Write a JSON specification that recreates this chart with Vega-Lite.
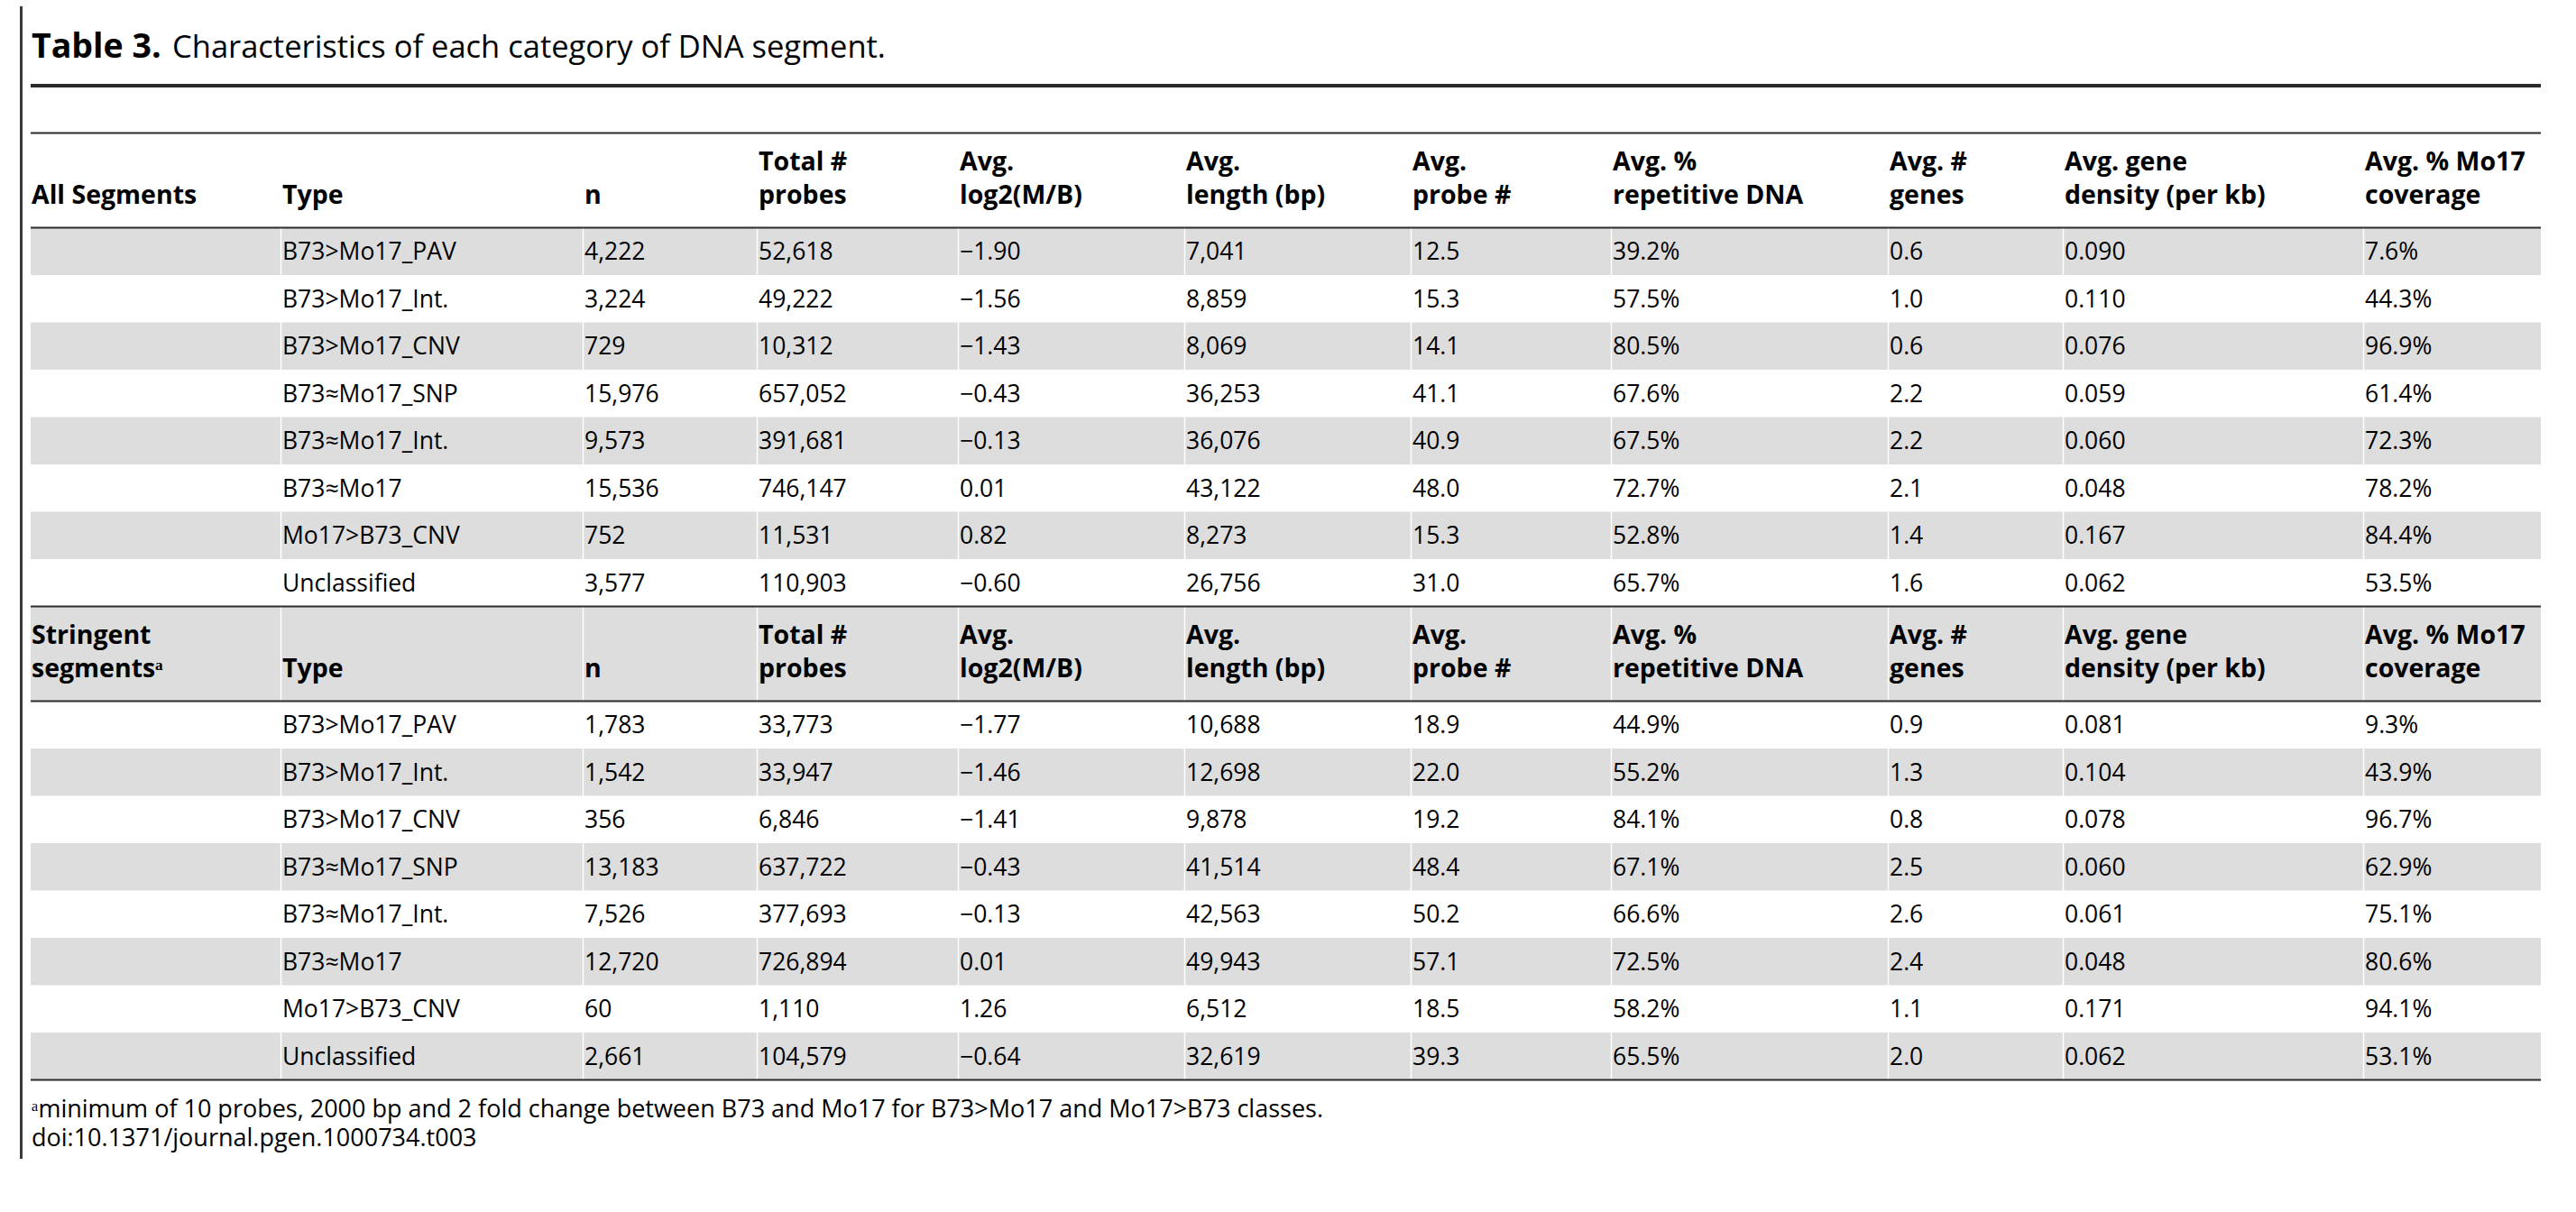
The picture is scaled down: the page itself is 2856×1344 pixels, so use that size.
{
  "$schema": "https://vega.github.io/schema/vega-lite/v6.json",
  "background": "white",
  "padding": {"left": 22, "top": 7, "right": 0, "bottom": 0},
  "config": {"view": {"stroke": null}},
  "datasets": {
    "rows": [
      {"line": 1, "row": 0, "hl": 1, "set": "All Segments", "seg": "", "type": "", "n": "", "probes": "Total #", "log2": "Avg.", "len": "Avg.", "pnum": "Avg.", "rep": "Avg. %", "genes": "Avg. #", "dens": "Avg. gene", "cov": "Avg. % Mo17"},
      {"line": 2, "row": 0, "hl": 2, "set": "All Segments", "seg": "All Segments", "type": "Type", "n": "n", "probes": "probes", "log2": "log2(M/B)", "len": "length (bp)", "pnum": "probe #", "rep": "repetitive DNA", "genes": "genes", "dens": "density (per kb)", "cov": "coverage"},
      {"line": 3, "row": 1, "hl": 0, "set": "All Segments", "type": "B73>Mo17_PAV", "n": "4,222", "probes": "52,618", "log2": "−1.90", "len": "7,041", "pnum": "12.5", "rep": "39.2%", "genes": "0.6", "dens": "0.090", "cov": "7.6%"},
      {"line": 4, "row": 2, "hl": 0, "set": "All Segments", "type": "B73>Mo17_Int.", "n": "3,224", "probes": "49,222", "log2": "−1.56", "len": "8,859", "pnum": "15.3", "rep": "57.5%", "genes": "1.0", "dens": "0.110", "cov": "44.3%"},
      {"line": 5, "row": 3, "hl": 0, "set": "All Segments", "type": "B73>Mo17_CNV", "n": "729", "probes": "10,312", "log2": "−1.43", "len": "8,069", "pnum": "14.1", "rep": "80.5%", "genes": "0.6", "dens": "0.076", "cov": "96.9%"},
      {"line": 6, "row": 4, "hl": 0, "set": "All Segments", "type": "B73≈Mo17_SNP", "n": "15,976", "probes": "657,052", "log2": "−0.43", "len": "36,253", "pnum": "41.1", "rep": "67.6%", "genes": "2.2", "dens": "0.059", "cov": "61.4%"},
      {"line": 7, "row": 5, "hl": 0, "set": "All Segments", "type": "B73≈Mo17_Int.", "n": "9,573", "probes": "391,681", "log2": "−0.13", "len": "36,076", "pnum": "40.9", "rep": "67.5%", "genes": "2.2", "dens": "0.060", "cov": "72.3%"},
      {"line": 8, "row": 6, "hl": 0, "set": "All Segments", "type": "B73≈Mo17", "n": "15,536", "probes": "746,147", "log2": "0.01", "len": "43,122", "pnum": "48.0", "rep": "72.7%", "genes": "2.1", "dens": "0.048", "cov": "78.2%"},
      {"line": 9, "row": 7, "hl": 0, "set": "All Segments", "type": "Mo17>B73_CNV", "n": "752", "probes": "11,531", "log2": "0.82", "len": "8,273", "pnum": "15.3", "rep": "52.8%", "genes": "1.4", "dens": "0.167", "cov": "84.4%"},
      {"line": 10, "row": 8, "hl": 0, "set": "All Segments", "type": "Unclassified", "n": "3,577", "probes": "110,903", "log2": "−0.60", "len": "26,756", "pnum": "31.0", "rep": "65.7%", "genes": "1.6", "dens": "0.062", "cov": "53.5%"},
      {"line": 11, "row": 9, "hl": 1, "set": "Stringent segments", "seg": "Stringent", "type": "", "n": "", "probes": "Total #", "log2": "Avg.", "len": "Avg.", "pnum": "Avg.", "rep": "Avg. %", "genes": "Avg. #", "dens": "Avg. gene", "cov": "Avg. % Mo17"},
      {"line": 12, "row": 9, "hl": 2, "set": "Stringent segments", "seg": "segmentsᵃ", "type": "Type", "n": "n", "probes": "probes", "log2": "log2(M/B)", "len": "length (bp)", "pnum": "probe #", "rep": "repetitive DNA", "genes": "genes", "dens": "density (per kb)", "cov": "coverage"},
      {"line": 13, "row": 10, "hl": 0, "set": "Stringent segments", "type": "B73>Mo17_PAV", "n": "1,783", "probes": "33,773", "log2": "−1.77", "len": "10,688", "pnum": "18.9", "rep": "44.9%", "genes": "0.9", "dens": "0.081", "cov": "9.3%"},
      {"line": 14, "row": 11, "hl": 0, "set": "Stringent segments", "type": "B73>Mo17_Int.", "n": "1,542", "probes": "33,947", "log2": "−1.46", "len": "12,698", "pnum": "22.0", "rep": "55.2%", "genes": "1.3", "dens": "0.104", "cov": "43.9%"},
      {"line": 15, "row": 12, "hl": 0, "set": "Stringent segments", "type": "B73>Mo17_CNV", "n": "356", "probes": "6,846", "log2": "−1.41", "len": "9,878", "pnum": "19.2", "rep": "84.1%", "genes": "0.8", "dens": "0.078", "cov": "96.7%"},
      {"line": 16, "row": 13, "hl": 0, "set": "Stringent segments", "type": "B73≈Mo17_SNP", "n": "13,183", "probes": "637,722", "log2": "−0.43", "len": "41,514", "pnum": "48.4", "rep": "67.1%", "genes": "2.5", "dens": "0.060", "cov": "62.9%"},
      {"line": 17, "row": 14, "hl": 0, "set": "Stringent segments", "type": "B73≈Mo17_Int.", "n": "7,526", "probes": "377,693", "log2": "−0.13", "len": "42,563", "pnum": "50.2", "rep": "66.6%", "genes": "2.6", "dens": "0.061", "cov": "75.1%"},
      {"line": 18, "row": 15, "hl": 0, "set": "Stringent segments", "type": "B73≈Mo17", "n": "12,720", "probes": "726,894", "log2": "0.01", "len": "49,943", "pnum": "57.1", "rep": "72.5%", "genes": "2.4", "dens": "0.048", "cov": "80.6%"},
      {"line": 19, "row": 16, "hl": 0, "set": "Stringent segments", "type": "Mo17>B73_CNV", "n": "60", "probes": "1,110", "log2": "1.26", "len": "6,512", "pnum": "18.5", "rep": "58.2%", "genes": "1.1", "dens": "0.171", "cov": "94.1%"},
      {"line": 20, "row": 17, "hl": 0, "set": "Stringent segments", "type": "Unclassified", "n": "2,661", "probes": "104,579", "log2": "−0.64", "len": "32,619", "pnum": "39.3", "rep": "65.5%", "genes": "2.0", "dens": "0.062", "cov": "53.1%"}
    ],
    "cols": [
      {"col": "seg", "i": 0}, {"col": "type", "i": 1}, {"col": "n", "i": 2}, {"col": "probes", "i": 3},
      {"col": "log2", "i": 4}, {"col": "len", "i": 5}, {"col": "pnum", "i": 6}, {"col": "rep", "i": 7},
      {"col": "genes", "i": 8}, {"col": "dens", "i": 9}, {"col": "cov", "i": 10}
    ],
    "caption": [
      {"label": "Table 3.", "caption": "Characteristics of each category of DNA segment."}
    ],
    "notes": [
      {"k": 1, "text": "ᵃminimum of 10 probes, 2000 bp and 2 fold change between B73 and Mo17 for B73>Mo17 and Mo17>B73 classes."},
      {"k": 2, "text": "doi:10.1371/journal.pgen.1000734.t003"}
    ]
  },
  "hconcat": [
    {
      "width": 3,
      "height": 1278,
      "data": {"values": [{}]},
      "view": {"fill": "#3a3a3a", "stroke": null},
      "mark": {"type": "rect", "color": "#3a3a3a"},
      "encoding": {}
    },
    {
      "vconcat": [
        {
          "width": 2783,
          "height": 87.5,
          "data": {"name": "caption"},
          "layer": [
            {
              "mark": {"type": "text", "font": "Open Sans", "fontWeight": "bold", "fontSize": 37.5, "align": "left", "baseline": "alphabetic", "dy": 13.25, "color": "#000000"},
              "encoding": {"x": {"value": 1}, "text": {"field": "label", "type": "nominal"}}
            },
            {
              "mark": {"type": "text", "font": "Open Sans", "fontWeight": "normal", "fontSize": 34.5, "align": "left", "baseline": "alphabetic", "dy": 13.25, "color": "#000000"},
              "encoding": {"x": {"value": 157}, "text": {"field": "caption", "type": "nominal"}}
            }
          ]
        },
        {
          "width": 2783,
          "height": 1102.5,
          "data": {"name": "rows"},
          "layer": [
            {
              "transform": [{"filter": "datum.row % 2 == 1"}],
              "mark": {"type": "rect", "color": "#dddddd"},
              "encoding": {
                "y": {"field": "line", "type": "ordinal", "axis": null, "scale": {"type": "band", "domain": [0,1,2,3,4,5,6,7,8,9,10,11,12,13,14,15,16,17,18,19,20], "paddingInner": 0, "paddingOuter": 0}}
              }
            },
            {
              "data": {"name": "cols"},
              "transform": [{"filter": "datum.i > 0"}],
              "mark": {"type": "rule", "color": "#ffffff", "strokeWidth": 1.5, "xOffset": -1.5},
              "encoding": {
                "x": {"field": "i", "type": "quantitative", "axis": null, "scale": {"domain": [0,1,2,3,4,5,6,7,8,9,10], "range": [1,279,614,807,1030,1281,1532,1754,2061,2255,2588], "zero": false, "nice": false}}
              }
            },
            {
              "transform": [{"filter": "datum.hl == 1"}],
              "mark": {"type": "rule", "color": "#2b2b2b", "strokeWidth": 2.2},
              "encoding": {
                "y": {"field": "line", "type": "ordinal", "bandPosition": 0, "axis": null, "scale": {"type": "band", "domain": [0,1,2,3,4,5,6,7,8,9,10,11,12,13,14,15,16,17,18,19,20], "paddingInner": 0, "paddingOuter": 0}}
              }
            },
            {
              "transform": [{"filter": "datum.hl == 2"}],
              "mark": {"type": "rule", "color": "#2b2b2b", "strokeWidth": 2.2},
              "encoding": {
                "y": {"field": "line", "type": "ordinal", "bandPosition": 1, "axis": null, "scale": {"type": "band", "domain": [0,1,2,3,4,5,6,7,8,9,10,11,12,13,14,15,16,17,18,19,20], "paddingInner": 0, "paddingOuter": 0}}
              }
            },
            {
              "transform": [{"aggregate": [{"op": "max", "field": "line", "as": "line"}]}],
              "mark": {"type": "rule", "color": "#2b2b2b", "strokeWidth": 2.2},
              "encoding": {
                "y": {"field": "line", "type": "ordinal", "bandPosition": 1, "axis": null, "scale": {"type": "band", "domain": [0,1,2,3,4,5,6,7,8,9,10,11,12,13,14,15,16,17,18,19,20], "paddingInner": 0, "paddingOuter": 0}}
              }
            },
            {
              "data": {"values": [{}]},
              "mark": {"type": "rule", "color": "#2b2b2b", "strokeWidth": 4},
              "encoding": {
                "y": {"datum": 0, "type": "ordinal", "bandPosition": 0, "axis": null, "scale": {"type": "band", "domain": [0,1,2,3,4,5,6,7,8,9,10,11,12,13,14,15,16,17,18,19,20], "paddingInner": 0, "paddingOuter": 0}}
              }
            },
            {
              "transform": [
                {"fold": ["seg", "type", "n", "probes", "log2", "len", "pnum", "rep", "genes", "dens", "cov"], "as": ["col", "text"]},
                {"filter": "isValid(datum.text)"},
                {"lookup": "col", "from": {"data": {"name": "cols"}, "key": "col", "fields": ["i"]}}
              ],
              "layer": [
                {
                  "transform": [{"filter": "datum.hl == 0"}],
                  "mark": {"type": "text", "font": "Open Sans", "fontSize": 26.5, "align": "left", "baseline": "alphabetic", "dy": 9.3, "color": "#000000"},
                  "encoding": {
                    "x": {"field": "i", "type": "quantitative", "axis": null, "scale": {"domain": [0,1,2,3,4,5,6,7,8,9,10], "range": [1,279,614,807,1030,1281,1532,1754,2061,2255,2588], "zero": false, "nice": false}},
                    "y": {"field": "line", "type": "ordinal", "axis": null, "scale": {"type": "band", "domain": [0,1,2,3,4,5,6,7,8,9,10,11,12,13,14,15,16,17,18,19,20], "paddingInner": 0, "paddingOuter": 0}},
                    "text": {"field": "text", "type": "nominal"}
                  }
                },
                {
                  "transform": [{"filter": "datum.hl == 1"}],
                  "mark": {"type": "text", "font": "Open Sans", "fontWeight": "bold", "fontSize": 28.5, "align": "left", "baseline": "alphabetic", "dy": 15, "color": "#000000"},
                  "encoding": {
                    "x": {"field": "i", "type": "quantitative", "axis": null, "scale": {"domain": [0,1,2,3,4,5,6,7,8,9,10], "range": [1,279,614,807,1030,1281,1532,1754,2061,2255,2588], "zero": false, "nice": false}},
                    "y": {"field": "line", "type": "ordinal", "axis": null, "scale": {"type": "band", "domain": [0,1,2,3,4,5,6,7,8,9,10,11,12,13,14,15,16,17,18,19,20], "paddingInner": 0, "paddingOuter": 0}},
                    "text": {"field": "text", "type": "nominal"}
                  }
                },
                {
                  "transform": [{"filter": "datum.hl == 2"}],
                  "mark": {"type": "text", "font": "Open Sans", "fontWeight": "bold", "fontSize": 28.5, "align": "left", "baseline": "alphabetic", "dy": 0, "color": "#000000"},
                  "encoding": {
                    "x": {"field": "i", "type": "quantitative", "axis": null, "scale": {"domain": [0,1,2,3,4,5,6,7,8,9,10], "range": [1,279,614,807,1030,1281,1532,1754,2061,2255,2588], "zero": false, "nice": false}},
                    "y": {"field": "line", "type": "ordinal", "axis": null, "scale": {"type": "band", "domain": [0,1,2,3,4,5,6,7,8,9,10,11,12,13,14,15,16,17,18,19,20], "paddingInner": 0, "paddingOuter": 0}},
                    "text": {"field": "text", "type": "nominal"}
                  }
                }
              ]
            }
          ]
        },
        {
          "width": 2783,
          "height": 88,
          "data": {"name": "notes"},
          "mark": {"type": "text", "font": "Open Sans", "fontSize": 27, "align": "left", "baseline": "alphabetic", "dy": 13, "color": "#000000"},
          "encoding": {
            "x": {"value": 1},
            "y": {"field": "k", "type": "ordinal", "axis": null, "scale": {"type": "band", "paddingInner": 0, "paddingOuter": 0.375}},
            "text": {"field": "text", "type": "nominal"}
          }
        }
      ],
      "spacing": 0,
      "bounds": "flush"
    }
  ],
  "spacing": 9,
  "bounds": "flush"
}
